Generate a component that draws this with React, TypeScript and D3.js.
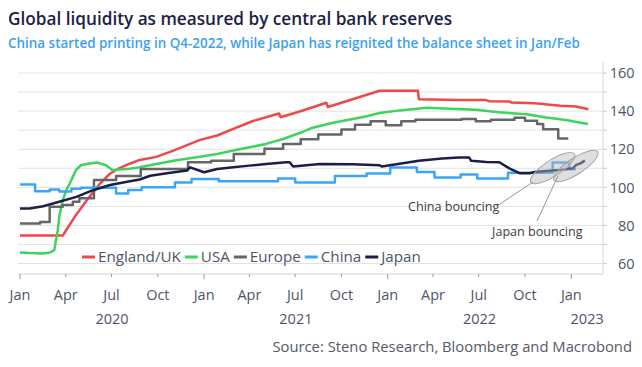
import React, { useRef, useEffect } from "react";
import * as d3 from "d3";

type Pt = [string, number];

// Central bank reserves, indexed
const englandUK: Pt[] = [
  ["2020-01-01", 74.7], ["2020-03-26", 74.7], ["2020-04-21", 85.4], ["2020-05-18", 95],
  ["2020-06-08", 102], ["2020-06-27", 107], ["2020-07-16", 110], ["2020-08-06", 112.4],
  ["2020-08-26", 114.4], ["2020-09-28", 116], ["2020-11-01", 119.3], ["2020-12-24", 124.9],
  ["2021-01-27", 127.2], ["2021-02-28", 130.7], ["2021-04-07", 134.7], ["2021-05-30", 138.8],
  ["2021-06-02", 136.8], ["2021-07-10", 139.8], ["2021-09-01", 144.4], ["2021-09-04", 142.2],
  ["2021-12-16", 150.7], ["2022-03-02", 150.7], ["2022-03-04", 146.3], ["2022-05-20", 145.8],
  ["2022-07-15", 145.8], ["2022-07-22", 145.2], ["2022-09-01", 145.0], ["2022-09-04", 144.5],
  ["2022-10-20", 144.2], ["2022-12-10", 142.8], ["2023-01-10", 142.4], ["2023-02-04", 141.0],
];

const usa: Pt[] = [
  ["2020-01-01", 65.8], ["2020-01-20", 65.5], ["2020-02-15", 65.3], ["2020-03-01", 65.8],
  ["2020-03-09", 67], ["2020-03-16", 77.5], ["2020-03-19", 84.5], ["2020-03-26", 93.3],
  ["2020-04-02", 98.5], ["2020-04-09", 102], ["2020-04-15", 105.5], ["2020-04-21", 109],
  ["2020-05-01", 111.6], ["2020-05-18", 112.5], ["2020-06-03", 113], ["2020-06-20", 111.6],
  ["2020-07-03", 109], ["2020-07-16", 109.3], ["2020-08-06", 109.8], ["2020-08-26", 110.5],
  ["2020-09-28", 112.3], ["2020-11-01", 114], ["2020-11-27", 115], ["2020-12-24", 116.1],
  ["2021-01-27", 117.5], ["2021-02-28", 119.3], ["2021-04-01", 121], ["2021-05-04", 122.8],
  ["2021-06-07", 125.4], ["2021-07-10", 128.5], ["2021-08-01", 131], ["2021-09-12", 133.8],
  ["2021-11-18", 137.2], ["2021-12-16", 139], ["2022-01-25", 140.4], ["2022-03-20", 141.8],
  ["2022-05-04", 141.2], ["2022-06-25", 140.7], ["2022-08-10", 139.4], ["2022-10-04", 138.4],
  ["2022-11-12", 136.7], ["2022-12-21", 135.4], ["2023-02-03", 133.2],
];

const europe: Pt[] = [
  ["2020-01-01", 81], ["2020-02-10", 81.8], ["2020-02-29", 89.8], ["2020-03-26", 90.7],
  ["2020-04-15", 92.4], ["2020-04-28", 94.3], ["2020-05-27", 103.8], ["2020-07-10", 106],
  ["2020-08-28", 109.6], ["2020-11-30", 113.2], ["2021-01-15", 114], ["2021-03-01", 117.5],
  ["2021-05-01", 120.2], ["2021-06-07", 122.8], ["2021-07-12", 125.2], ["2021-08-16", 127.8],
  ["2021-10-01", 130.3], ["2021-10-28", 132.9], ["2021-11-28", 134.7], ["2021-12-28", 132.6],
  ["2022-01-28", 134.7], ["2022-02-25", 135.5], ["2022-05-28", 135.9], ["2022-06-25", 134.7],
  ["2022-07-25", 135.5], ["2022-09-10", 136.5], ["2022-10-01", 134.9], ["2022-10-25", 133.2],
  ["2022-11-06", 130.5], ["2022-12-06", 125.6], ["2022-12-26", 125.6],
];

const china: Pt[] = [
  ["2020-01-01", 101.5], ["2020-01-31", 98], ["2020-02-29", 98.9], ["2020-03-19", 97.8],
  ["2020-04-12", 99.2], ["2020-05-01", 99.8], ["2020-07-10", 96.7], ["2020-08-03", 98.6],
  ["2020-08-30", 100], ["2020-11-04", 102.6], ["2020-12-07", 104.4], ["2021-01-30", 103.2],
  ["2021-05-28", 104.6], ["2021-07-01", 102.6], ["2021-09-18", 106], ["2021-11-20", 107.3],
  ["2022-01-06", 110.4], ["2022-02-28", 108.1], ["2022-04-04", 105.1], ["2022-05-26", 106.8],
  ["2022-06-28", 104.6], ["2022-08-28", 107.6], ["2022-11-25", 113], ["2022-12-28", 109.5],
  ["2023-01-10", 109.5],
];

const japan: Pt[] = [
  ["2020-01-01", 88.9], ["2020-01-20", 88.9], ["2020-02-16", 90.1], ["2020-03-19", 92.4],
  ["2020-04-22", 95], ["2020-05-25", 98.5], ["2020-06-28", 101.2], ["2020-08-01", 102.9],
  ["2020-08-26", 104.1], ["2020-09-16", 106.1], ["2020-10-19", 107.4], ["2020-11-28", 108.8],
  ["2020-12-04", 110.5], ["2021-01-01", 107.9], ["2021-01-27", 109.6], ["2021-02-28", 110.5],
  ["2021-04-01", 111.4], ["2021-05-04", 112.3], ["2021-06-13", 113.2], ["2021-06-20", 113.2],
  ["2021-06-27", 110.9], ["2021-08-19", 112.3], ["2021-10-23", 112.1], ["2021-12-16", 111.6],
  ["2021-12-20", 110.9], ["2022-01-31", 112.6], ["2022-03-04", 113.9], ["2022-04-19", 115.1],
  ["2022-05-22", 115.6], ["2022-06-12", 115.6], ["2022-06-16", 113.9], ["2022-07-16", 113.3],
  ["2022-08-11", 113.2], ["2022-08-25", 110.9], ["2022-09-03", 109.5], ["2022-09-20", 107.4],
  ["2022-10-10", 107.4], ["2022-10-23", 108.2], ["2022-11-19", 108.7], ["2022-12-10", 109.1],
  ["2023-01-04", 110.0], ["2023-01-11", 111.8], ["2023-01-19", 112.6], ["2023-01-28", 114.0],
];

const seriesNames = ["England/UK", "USA", "Europe", "China", "Japan"];
const seriesColors = ["#f04848", "#3dd35c", "#666666", "#3aa6f5", "#1b1f48"];
const seriesData = [englandUK, usa, europe, china, japan];
const seriesStep = [false, false, true, true, false];

const yTicks = [60, 80, 100, 120, 140, 160];
const yGrid = [60, 70, 80, 90, 100, 110, 120, 130, 140, 150, 160];
const monthNames = ["Jan", "Apr", "Jul", "Oct"];
const years = [2020, 2021, 2022, 2023];

const title = "Global liquidity as measured by central bank reserves";
const subtitle = "China started printing in Q4-2022, while Japan has reignited the balance sheet in Jan/Feb";
const source = "Source: Steno Research, Bloomberg and Macrobond";

const font = "'Open Sans', 'Noto Sans', sans-serif";
const textColor = "#4e5468";

export default function App() {
  const svgRef = useRef<SVGSVGElement>(null);

  useEffect(() => {
    if (!svgRef.current) return;
    const svg = d3.select(svgRef.current);
    svg.selectAll("*").remove();

    const left = 18, right = 603, top = 62, bottom = 274;
    const parse = d3.timeParse("%Y-%m-%d");
    const x = d3.scaleTime()
      .domain([parse("2019-12-28")!, parse("2023-03-05")!])
      .range([left, right]);
    const y = d3.scaleLinear().domain([54.5, 165.8]).range([bottom, top]);

    // Titles
    svg.append("text").attr("x", 8).attr("y", 25)
      .attr("font-size", 17.2).attr("font-weight", 600).attr("fill", "#1c2244")
      .text(title);
    svg.append("text").attr("x", 8).attr("y", 48)
      .attr("font-size", 13.45).attr("font-weight", 600).attr("fill", "#3c9ff0")
      .text(subtitle);

    // Grid
    svg.append("g").selectAll("line").data(yGrid).enter().append("line")
      .attr("x1", left).attr("x2", right)
      .attr("y1", (d) => y(d)).attr("y2", (d) => y(d))
      .attr("stroke", "#e3e3e3").attr("stroke-width", 1);

    // Right axis
    svg.append("line").attr("x1", right).attr("x2", right).attr("y1", top).attr("y2", bottom)
      .attr("stroke", "#d4d4d4");
    svg.append("g").selectAll("line").data(yGrid).enter().append("line")
      .attr("x1", right).attr("x2", right + 4)
      .attr("y1", (d) => y(d)).attr("y2", (d) => y(d))
      .attr("stroke", "#c8c8c8");
    svg.append("g").selectAll("text").data(yTicks).enter().append("text")
      .attr("x", 634.5).attr("y", (d) => y(d)).attr("dy", "0.36em")
      .attr("text-anchor", "end").attr("font-size", 14.5).attr("fill", textColor)
      .text((d) => d);

    // Bottom axis
    svg.append("line").attr("x1", left).attr("x2", right).attr("y1", bottom).attr("y2", bottom)
      .attr("stroke", "#d4d4d4");
    const quarters = d3.timeMonth.every(3)!.range(x.domain()[0], x.domain()[1]);
    svg.append("g").selectAll("line").data(quarters).enter().append("line")
      .attr("x1", (d) => x(d)).attr("x2", (d) => x(d))
      .attr("y1", bottom).attr("y2", (d) => bottom + (d.getMonth() === 0 ? 5 : 3))
      .attr("stroke", "#9a9a9a");
    svg.append("g").selectAll("text").data(quarters).enter().append("text")
      .attr("x", (d) => x(d)).attr("y", 300).attr("text-anchor", "middle")
      .attr("font-size", 14.5).attr("fill", textColor)
      .text((d) => monthNames[d.getMonth() / 3]);
    svg.append("g").selectAll("text").data(years).enter().append("text")
      .attr("x", (d) => {
        const a = Math.max(x(new Date(d, 0, 1)), left);
        const b = Math.min(x(new Date(d + 1, 0, 1)), right);
        return (a + b) / 2;
      })
      .attr("y", 324).attr("text-anchor", "middle")
      .attr("font-size", 14.5).attr("fill", textColor)
      .text((d) => d);

    // Lines
    seriesData.forEach((data, i) => {
      const line = d3.line<Pt>()
        .x((d) => x(parse(d[0])!))
        .y((d) => y(d[1]))
        .curve(seriesStep[i] ? d3.curveStepAfter : d3.curveLinear);
      svg.append("path").datum(data)
        .attr("d", line)
        .attr("fill", "none")
        .attr("stroke", seriesColors[i])
        .attr("stroke-width", 2.5)
        .attr("stroke-linejoin", "round");
    });

    // Legend
    const legend = svg.append("g").attr("transform", "translate(82, 257)");
    let lx = 0;
    seriesNames.forEach((name, i) => {
      legend.append("line").attr("x1", lx).attr("x2", lx + 13).attr("y1", 0).attr("y2", 0)
        .attr("stroke", seriesColors[i]).attr("stroke-width", 3);
      const t = legend.append("text").attr("x", lx + 16).attr("y", 0).attr("dy", "0.35em")
        .attr("font-size", 15.2).attr("fill", textColor).text(name);
      lx += 16 + (t.node() as SVGTextElement).getComputedTextLength() + 4;
    });

    // Annotations
    const ann = svg.append("g");
    const ellipses: [string, number][] = [["2022-11-25", 110.1], ["2023-01-10", 111.2]];
    ellipses.forEach(([d, v]) => {
      ann.append("ellipse")
        .attr("transform", `translate(${x(parse(d)!)}, ${y(v)}) rotate(-33)`)
        .attr("rx", 26).attr("ry", 8)
        .attr("fill", "rgba(185,185,185,0.45)")
        .attr("stroke", "#a3a3a3").attr("stroke-width", 1);
    });
    ann.append("line").attr("x1", 500).attr("y1", 204).attr("x2", 533).attr("y2", 182)
      .attr("stroke", "#8a8a8a").attr("stroke-width", 0.9);
    ann.append("line").attr("x1", 537).attr("y1", 221).attr("x2", 558).attr("y2", 176)
      .attr("stroke", "#8a8a8a").attr("stroke-width", 0.9);
    ann.append("text").attr("x", 408).attr("y", 211).attr("font-size", 12.6).attr("fill", "#3d3d3d")
      .text("China bouncing");
    ann.append("text").attr("x", 492).attr("y", 236).attr("font-size", 12.6).attr("fill", "#3d3d3d")
      .text("Japan bouncing");

    // Source
    svg.append("text").attr("x", 632).attr("y", 352).attr("text-anchor", "end")
      .attr("font-size", 14.8).attr("fill", "#555a66").text(source);
  }, []);

  return (
    <svg
      ref={svgRef}
      width={642}
      height={367}
      fontFamily={font}
      style={{ position: "absolute", left: 0, top: 0, background: "#fff" }}
    />
  );
}
